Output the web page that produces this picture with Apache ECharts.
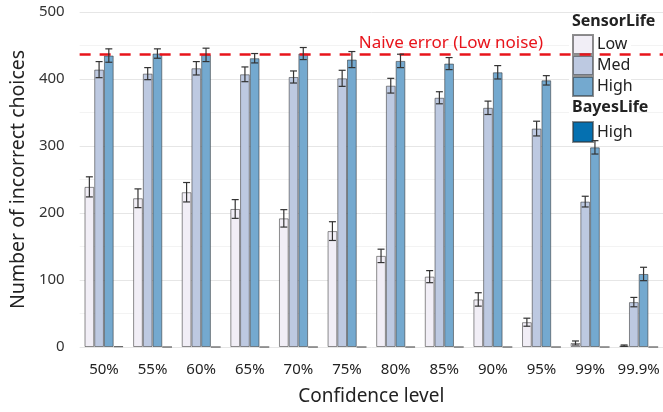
<!DOCTYPE html>
<html>
<head>
<meta charset="utf-8">
<script src="https://cdn.jsdelivr.net/npm/echarts@6/dist/echarts.min.js"></script>
<style>
  html, body { margin: 0; padding: 0; background: #fff; }
  #chart { width: 663px; height: 412px; }
</style>
</head>
<body>
<div id="chart"></div>
<script>
// Confidence levels on the x axis
const categories = ['50%', '55%', '60%', '65%', '70%', '75%', '80%', '85%', '90%', '95%', '99%', '99.9%'];

// SensorLife, three noise levels: mean incorrect choices and error half-widths
const sensorLow = [239, 222, 231, 206, 192, 173, 136, 105, 71, 37, 6, 2];
const sensorLowErr = [15, 14, 14.5, 14, 13, 14, 10, 9, 10, 6, 3, 1];
const sensorMed = [414, 408, 416, 407, 403, 401, 390, 372, 357, 326, 217, 67];
const sensorMedErr = [12, 9, 10, 11, 9, 12, 11, 9, 10, 11, 8, 7];
const sensorHigh = [435, 438, 436, 431, 438, 429, 427, 423, 410, 398, 298, 109];
const sensorHighErr = [10, 7, 10, 7, 9, 12, 10, 9, 10, 7, 10, 10];

// BayesLife, high noise
const bayesHigh = [1, 0, 0, 0, 0, 0, 0, 0, 0, 0, 0, 0];

// Reference level of the naive strategy
const naiveError = 437;

const yTicks = { min: 0, max: 500, interval: 100 };

const FONT = '"Noto Sans", "Open Sans", sans-serif';
const colors = ['#f1eef6', '#bdc9e1', '#74a9cf', '#0570b0'];
const border = 'rgba(50,50,50,0.55)';
const NBARS = 4;
const GROUP_FRAC = 0.8;

function barSeries(name, data, color) {
  return {
    type: 'bar',
    name: name,
    data: data,
    barGap: '0%',
    barCategoryGap: '20%',
    itemStyle: { color: color, borderColor: border, borderWidth: 1 },
    emphasis: { disabled: true }
  };
}

function errorSeries(values, errs, slot) {
  return {
    type: 'custom',
    name: 'err' + slot,
    z: 5,
    silent: true,
    data: values.map((v, i) => [i, v, errs[i]]),
    encode: { x: 0, y: 1 },
    renderItem: function (params, api) {
      const i = api.value(0), v = api.value(1), e = api.value(2);
      const top = api.coord([i, v + e]);
      const bot = api.coord([i, Math.max(0, v - e)]);
      const bandW = api.size([1, 0])[0];
      const bw = bandW * GROUP_FRAC / NBARS;
      const x = top[0] - bandW * GROUP_FRAC / 2 + bw * (slot + 0.5);
      const cap = 3.5;
      const style = { stroke: '#333', lineWidth: 1.2 };
      return {
        type: 'group',
        children: [
          { type: 'line', shape: { x1: x, y1: top[1], x2: x, y2: bot[1] }, style: style },
          { type: 'line', shape: { x1: x - cap, y1: top[1], x2: x + cap, y2: top[1] }, style: style },
          { type: 'line', shape: { x1: x - cap, y1: bot[1], x2: x + cap, y2: bot[1] }, style: style }
        ]
      };
    }
  };
}

const chart = echarts.init(document.getElementById('chart'), null, { renderer: 'canvas' });

const lowS = barSeries('Low', sensorLow, colors[0]);
lowS.markLine = {
  silent: true,
  symbol: 'none',
  lineStyle: { color: '#e8141b', type: [11, 9], width: 2.6 },
  label: {
    show: true,
    position: 'insideEndTop',
    formatter: 'Naive error (Low noise)',
    color: '#e8141b',
    fontFamily: FONT,
    fontSize: 17,
    distance: 3,
    padding: [0, 117, 0, 0]
  },
  data: [{ yAxis: naiveError }]
};

chart.setOption({
  animation: false,
  textStyle: { fontFamily: FONT },
  grid: { left: 78, right: -2, top: 12, bottom: 65 },
  xAxis: {
    type: 'category',
    data: categories,
    name: 'Confidence level',
    nameLocation: 'middle',
    nameGap: 40,
    nameTextStyle: { fontSize: 19, color: '#222', fontFamily: FONT },
    axisLine: { show: false },
    axisTick: { show: false },
    axisLabel: { interval: 0, hideOverlap: false, fontSize: 15, color: '#222', margin: 15, fontFamily: FONT },
    splitLine: { show: false }
  },
  yAxis: {
    type: 'value',
    min: yTicks.min,
    max: yTicks.max,
    interval: yTicks.interval,
    name: 'Number of incorrect choices',
    nameLocation: 'middle',
    nameGap: 41,
    nameTextStyle: { fontSize: 19.5, color: '#222', fontFamily: FONT },
    axisLine: { show: false },
    axisTick: { show: false },
    axisLabel: { fontSize: 15, color: '#333', margin: 15, fontFamily: FONT },
    splitLine: { show: true, lineStyle: { color: '#e6e6e6', width: 1 } },
    minorTick: { show: false, splitNumber: 2 },
    minorSplitLine: { show: true, lineStyle: { color: '#f3f3f3', width: 1 } }
  },
  legend: [
    {
      data: ['Low', 'Med', 'High'],
      orient: 'vertical',
      left: 572,
      top: 34,
      padding: 0,
      itemGap: 0,
      itemWidth: 20,
      itemHeight: 19,
      icon: 'rect',
      selectedMode: false,
      textStyle: { fontSize: 16, color: '#222', lineHeight: 19, fontFamily: FONT, padding: [0, 0, 0, -1] }
    },
    {
      data: ['High '],
      orient: 'vertical',
      left: 572,
      top: 121,
      padding: 0,
      itemGap: 0,
      itemWidth: 20,
      itemHeight: 20,
      icon: 'rect',
      selectedMode: false,
      formatter: name => name.trim(),
      textStyle: { fontSize: 16, color: '#222', lineHeight: 20, fontFamily: FONT, padding: [0, 0, 0, -1] }
    }
  ],
  graphic: [
    { type: 'rect', z: 3, shape: { x: 569, y: 29, width: 62, height: 116 }, style: { fill: '#fff' }, silent: true },
    { type: 'text', z: 4, left: 572, top: 13, style: { text: 'SensorLife', font: 'bold 16px ' + FONT, fill: '#222' } },
    { type: 'text', z: 4, left: 572, top: 99, style: { text: 'BayesLife', font: 'bold 16px ' + FONT, fill: '#222' } }
  ],
  series: [
    lowS,
    barSeries('Med', sensorMed, colors[1]),
    barSeries('High', sensorHigh, colors[2]),
    barSeries('High ', bayesHigh, colors[3]),
    errorSeries(sensorLow, sensorLowErr, 0),
    errorSeries(sensorMed, sensorMedErr, 1),
    errorSeries(sensorHigh, sensorHighErr, 2)
  ]
});
</script>
</body>
</html>
